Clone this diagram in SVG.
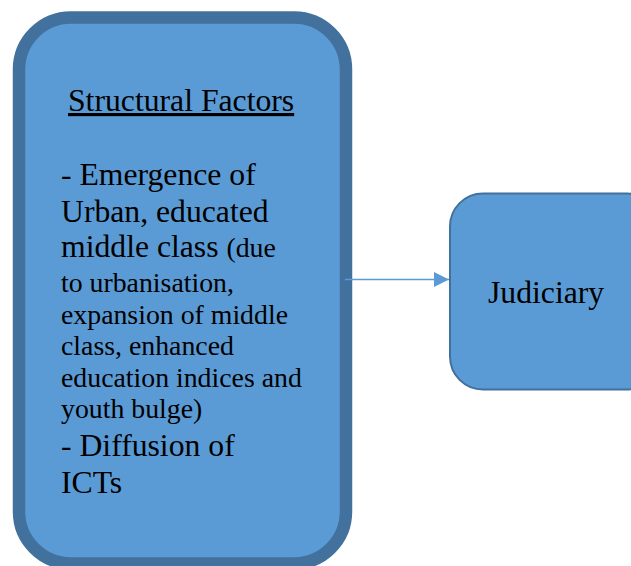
<svg xmlns="http://www.w3.org/2000/svg" width="631" height="566" viewBox="0 0 631 566">
  <style>
    .box { fill: #5B9BD5; stroke: #41719C; }
    .big { font-family: "Liberation Serif", "Times New Roman", serif; font-size: 31.7px; fill: #000; }
    .small { font-size: 27.8px; }
    .conn { stroke: #5B9BD5; stroke-width: 1.3; fill: none; }
  </style>
  <defs>
    <marker id="arrow" markerWidth="16" markerHeight="16" refX="15" refY="7.5" orient="auto" markerUnits="userSpaceOnUse">
      <path d="M0,0 L15,7.5 L0,15 Z" fill="#5B9BD5"/>
    </marker>
  </defs>

  <g id="structural-factors">
    <rect class="box" x="19" y="17.5" width="327" height="546" rx="52" ry="52" stroke-width="12.5"/>
    <text class="big" x="68" y="111" text-decoration="underline">Structural Factors</text>
    <text class="big" x="61">
      <tspan x="61" y="185">- Emergence of</tspan>
      <tspan x="61" y="222">Urban, educated</tspan>
      <tspan x="61" y="257">middle class <tspan class="small">(due</tspan></tspan>
      <tspan class="small" x="61" y="292">to urbanisation,</tspan>
      <tspan class="small" x="61" y="324">expansion of middle</tspan>
      <tspan class="small" x="61" y="355">class, enhanced</tspan>
      <tspan class="small" x="61" y="387">education indices and</tspan>
      <tspan class="small" x="61" y="418">youth bulge)</tspan>
      <tspan x="61" y="456">- Diffusion of</tspan>
      <tspan x="61" y="493">ICTs</tspan>
    </text>
  </g>

  <g id="judiciary">
    <rect class="box" x="450" y="193.5" width="210" height="196" rx="33" ry="33" stroke-width="2"/>
    <text class="big" x="488" y="303">Judiciary</text>
  </g>

  <g id="connectors">
    <line class="conn" x1="345" y1="279.5" x2="449" y2="279.5" marker-end="url(#arrow)"/>
  </g>
</svg>
